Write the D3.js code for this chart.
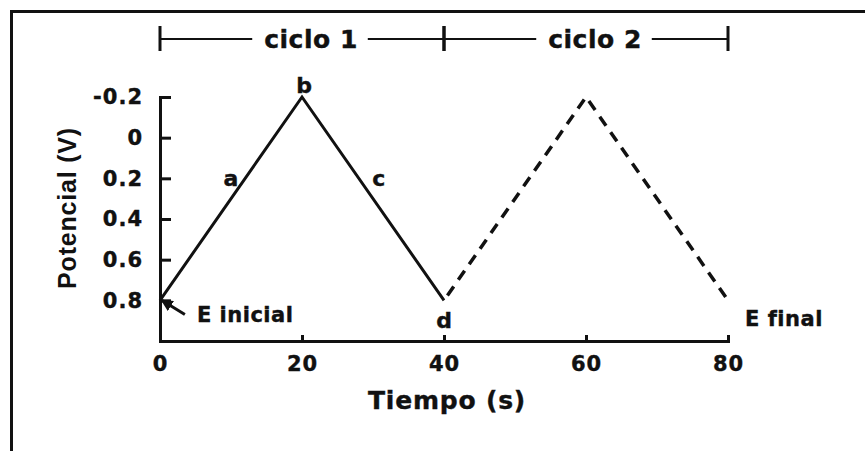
<!DOCTYPE html>
<html>
<head>
<meta charset="utf-8">
<script src="https://cdn.jsdelivr.net/npm/d3@7"></script>
<style>
    body { margin: 0; background: #fff; }
    svg { display: block; }
    .bold { font-family: "DejaVu Sans", sans-serif; font-weight: bold; fill: #111; stroke: #111; stroke-width: 0.4px; }
</style>
</head>
<body>
<div id="chart"></div>
<script>
// ===== Data =====
const time = [0, 20, 40, 60, 80];
const potential = [0.8, -0.2, 0.8, -0.2, 0.8];
const xTicks = [0, 20, 40, 60, 80];
const yTicks = [-0.2, 0, 0.2, 0.4, 0.6, 0.8];
const yTickLabels = ["-0.2", "0", "0.2", "0.4", "0.6", "0.8"];
const cycleNames = ["ciclo 1", "ciclo 2"];
const cycleStart = [0, 40];
const cycleEnd = [40, 80];
const pointLabels = ["a", "b", "c", "d"];
const pointLabelT = [10, 20.3, 30.8, 40];
const pointLabelV = [0.2, -0.26, 0.2, 0.9];

const width = 865;
const height = 451;

const svg = d3.select("#chart")
    .append("svg")
    .attr("width", width)
    .attr("height", height);

svg.append("rect").attr("width", width).attr("height", height).attr("fill", "#fff");

// frame (top and left edges only)
svg.append("path")
    .attr("d", `M11.5,${height}V11.5H${width}`)
    .attr("fill", "none")
    .attr("stroke", "#111")
    .attr("stroke-width", 3);

const x = d3.scaleLinear().domain([0, 80]).range([160, 728]);
const y = d3.scaleLinear().domain([-0.2, 1.0]).range([97, 341]);

// ===== Axes =====
const yAxis = svg.append("g")
    .attr("transform", `translate(${x(0)},0)`)
    .call(d3.axisLeft(y)
        .tickValues(yTicks)
        .tickFormat((d, i) => yTickLabels[i])
        .tickSize(-11)
        .tickPadding(17));

const xAxis = svg.append("g")
    .attr("transform", `translate(0,${y(1.0)})`)
    .call(d3.axisBottom(x)
        .tickValues(xTicks)
        .tickSize(-6)
        .tickPadding(15));

[yAxis, xAxis].forEach(ax => {
    ax.select(".domain").attr("stroke", "#111").attr("stroke-width", 3);
    ax.selectAll(".tick line").attr("stroke", "#111").attr("stroke-width", 3);
    ax.selectAll(".tick text")
        .attr("class", "bold")
        .style("font-size", "21px")
        .style("letter-spacing", "1px")
        .attr("fill", "#111");
});

// ===== Cycle lines =====
const line = d3.line()
    .x(i => x(time[i]))
    .y(i => y(potential[i]));

svg.append("path")
    .attr("d", line([0, 1, 2]))
    .attr("fill", "none")
    .attr("stroke", "#111")
    .attr("stroke-width", 3)
    .attr("stroke-linejoin", "miter");

svg.append("path")
    .attr("d", line([2, 3, 4]))
    .attr("fill", "none")
    .attr("stroke", "#111")
    .attr("stroke-width", 3.5)
    .attr("stroke-dasharray", "11,8")
    .attr("stroke-dashoffset", -6);

// ===== Cycle brackets =====
const bracketY = 39;
cycleNames.forEach((name, i) => {
    const x0 = x(cycleStart[i]);
    const x1 = x(cycleEnd[i]);
    const label = svg.append("text")
        .attr("class", "bold")
        .attr("x", (x0 + x1) / 2 + 9)
        .attr("y", bracketY + 9)
        .attr("text-anchor", "middle")
        .style("font-size", "25px")
        .style("letter-spacing", "0.5px")
        .text(name);
    const bb = label.node().getBBox();
    svg.append("line")
        .attr("x1", x0).attr("x2", bb.x - 12)
        .attr("y1", bracketY).attr("y2", bracketY)
        .attr("stroke", "#111").attr("stroke-width", 2);
    svg.append("line")
        .attr("x1", bb.x + bb.width + 10).attr("x2", x1)
        .attr("y1", bracketY).attr("y2", bracketY)
        .attr("stroke", "#111").attr("stroke-width", 2);
    [x0, x1].forEach(xx => {
        svg.append("line")
            .attr("x1", xx).attr("x2", xx)
            .attr("y1", bracketY - 13).attr("y2", bracketY + 12)
            .attr("stroke", "#111").attr("stroke-width", 3);
    });
});

// ===== Point labels =====
pointLabels.forEach((t, i) => {
    svg.append("text")
        .attr("class", "bold")
        .attr("x", x(pointLabelT[i]))
        .attr("y", y(pointLabelV[i]))
        .attr("dy", "0.35em")
        .attr("text-anchor", "middle")
        .style("font-size", "22px")
        .text(t);
});

// E inicial with arrow
svg.append("defs").append("marker")
    .attr("id", "arrow")
    .attr("viewBox", "0 0 10 10")
    .attr("refX", 9).attr("refY", 5)
    .attr("markerWidth", 4).attr("markerHeight", 4)
    .attr("orient", "auto")
    .append("path")
    .attr("d", "M0,0L10,5L0,10Z")
    .attr("fill", "#111");

svg.append("line")
    .attr("x1", x(3.5)).attr("y1", y(0.87))
    .attr("x2", x(0.25)).attr("y2", y(0.8))
    .attr("stroke", "#111").attr("stroke-width", 3)
    .attr("marker-end", "url(#arrow)");

svg.append("text")
    .attr("class", "bold")
    .attr("x", x(5.2))
    .attr("y", y(0.907))
    .style("font-size", "21px")
    .style("letter-spacing", "0.5px")
    .text("E inicial");

svg.append("text")
    .attr("class", "bold")
    .attr("x", x(82.4))
    .attr("y", y(0.927))
    .style("font-size", "21px")
    .style("letter-spacing", "0.5px")
    .text("E final");

// ===== Axis titles =====
svg.append("text")
    .attr("class", "bold")
    .attr("x", 447)
    .attr("y", 409)
    .attr("text-anchor", "middle")
    .style("font-size", "25px")
    .style("letter-spacing", "0.8px")
    .text("Tiempo (s)");

svg.append("text")
    .attr("transform", "translate(76,208) rotate(-90)")
    .attr("text-anchor", "middle")
    .style("font-family", "'Liberation Sans', Arial, sans-serif")
    .style("font-weight", "bold")
    .style("font-size", "25px")
    .style("letter-spacing", "0.8px")
    .attr("fill", "#111")
    .text("Potencial (V)");
</script>
</body>
</html>
